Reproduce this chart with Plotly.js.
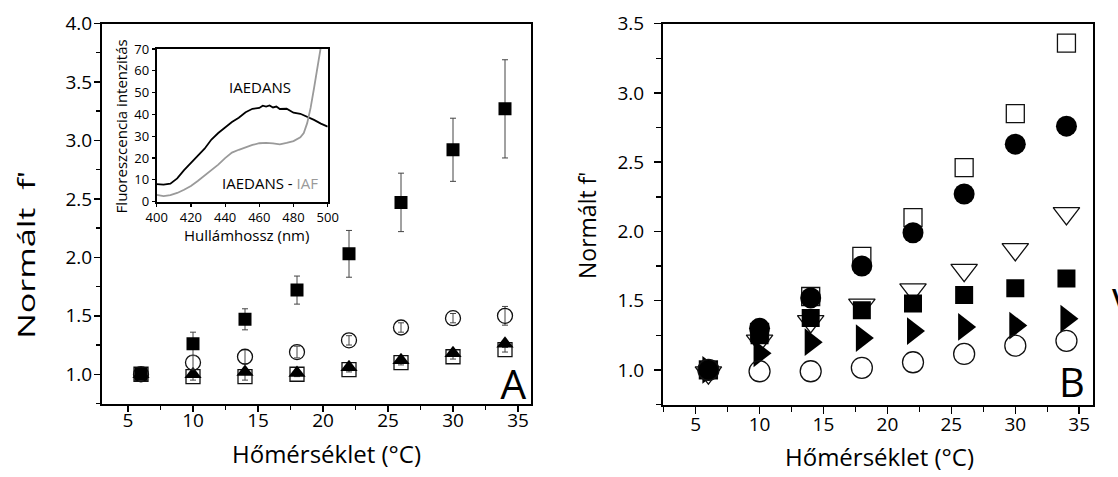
<!DOCTYPE html>
<html><head><meta charset="utf-8">
<script src="https://cdn.plot.ly/plotly-3.0.1.min.js"></script>
<style>html,body{margin:0;padding:0;background:#fff}#chart{width:1118px;height:477px}</style>
</head><body><div id="chart"></div>
<script>
// ---------- data ----------
const temps = [6, 10, 14, 18, 22, 26, 30, 34];

// Panel A
const A_filledSq     = [1.00, 1.26, 1.47, 1.72, 2.03, 2.47, 2.92, 3.27];
const A_filledSqErr  = [0.02, 0.10, 0.09, 0.12, 0.20, 0.25, 0.27, 0.42];
const A_openCirc     = [1.00, 1.10, 1.15, 1.19, 1.29, 1.40, 1.48, 1.50];
const A_openCircErr  = [0.02, 0.06, 0.06, 0.05, 0.04, 0.04, 0.04, 0.08];
const A_openSq       = [1.00, 0.98, 0.98, 1.00, 1.04, 1.10, 1.15, 1.21];
const A_openSqErr    = [0.03, 0.03, 0.03, 0.02, 0.02, 0.02, 0.02, 0.02];
const A_filledTri    = [1.00, 1.00, 1.02, 1.01, 1.06, 1.12, 1.18, 1.26];

// Panel B
const B_openSq     = [1.00, 1.27, 1.53, 1.82, 2.10, 2.46, 2.85, 3.36];
const B_downTri    = [0.98, 1.21, 1.35, 1.47, 1.58, 1.72, 1.87, 2.13];
const B_filledSq   = [1.00, 1.25, 1.375, 1.43, 1.48, 1.54, 1.59, 1.66];
const B_filledCirc = [1.00, 1.30, 1.52, 1.75, 1.99, 2.27, 2.63, 2.76];
const B_rightTri   = [1.00, 1.12, 1.20, 1.23, 1.28, 1.31, 1.32, 1.37];
const B_openCirc   = [1.00, 0.99, 0.99, 1.015, 1.055, 1.115, 1.175, 1.21];

// Inset spectra
const wlBlack = [400,404,408,412,416,420,424,428,432,436,440,444,448,452,456,460,462,464,466,468,470,472,476,480,484,488,492,496,500];
const iaedans = [8.1,7.8,8.3,10.7,14.5,17.8,21.0,24.3,28.5,31.5,34.0,36.5,38.5,41.0,42.6,43.0,44.0,43.6,44.1,43.2,43.6,42.5,42.6,40.8,40.3,39.0,37.5,35.8,34.4];
const wlGray  = [400,404,408,412,416,420,424,428,432,436,440,444,448,452,456,460,464,468,472,476,480,484,486,488,490,492,494,496];
const iaedansIaf = [3.1,2.6,3.0,4.0,5.5,7.2,9.5,12.0,14.5,17.0,20.0,22.5,23.8,25.0,26.0,26.8,27.0,26.7,26.3,27.0,27.8,29.5,31.5,36.0,43.0,52.0,62.0,71.0];

// ---------- layout helpers ----------
const W = 1118, H = 477;
const px = v => v / W;
const py = v => 1 - v / H;
const FONT = 'Open Sans, Noto Sans, sans-serif';

function mainAxis(domain, range, dtick, tick0, minorDtick, tl, tlm, standoff, anchor) {
  return {
    domain: domain, range: range, anchor: anchor,
    tickmode: 'linear', tick0: tick0, dtick: dtick,
    ticks: 'outside', ticklen: tl, tickwidth: 1.5, tickcolor: '#000',
    showline: true, linewidth: 2, linecolor: '#000', mirror: true,
    showgrid: false, zeroline: false,
    tickfont: {family: FONT, size: 19, color: '#000'},
    ticklabelstandoff: standoff,
    minor: {tick0: tick0, dtick: minorDtick, ticks: 'outside', ticklen: tlm, tickwidth: 1.5, tickcolor: '#000', showgrid: false},
    tickformat: dtick < 1 ? '.1f' : ''
  };
}

const openLine = '#111';
const errStyle = arr => ({type: 'data', array: arr, visible: true, color: '#444', thickness: 1, width: 3});

const traces = [
  // Panel A
  {x: temps, y: A_openSq, xaxis: 'x', yaxis: 'y', mode: 'markers',
   marker: {symbol: 'square-open', size: 14, color: openLine, line: {width: 1.3}}, error_y: errStyle(A_openSqErr)},
  {x: temps, y: A_filledTri, xaxis: 'x', yaxis: 'y', mode: 'markers',
   marker: {symbol: 'triangle-up', size: 15, color: '#000'}},
  {x: temps, y: A_openCirc, xaxis: 'x', yaxis: 'y', mode: 'markers',
   marker: {symbol: 'circle-open', size: 15, color: openLine, line: {width: 1.3}}, error_y: errStyle(A_openCircErr)},
  {x: temps, y: A_filledSq, xaxis: 'x', yaxis: 'y', mode: 'markers',
   marker: {symbol: 'square', size: 13, color: '#000'}, error_y: errStyle(A_filledSqErr)},
  // Panel B
  {x: temps, y: B_openSq, xaxis: 'x2', yaxis: 'y2', mode: 'markers',
   marker: {symbol: 'square-open', size: 18, color: openLine, line: {width: 1.3}}},
  {x: temps, y: B_downTri, xaxis: 'x2', yaxis: 'y2', mode: 'markers',
   marker: {symbol: 'triangle-down-open', size: 23, color: openLine, line: {width: 1.3}}},
  {x: temps, y: B_filledSq, xaxis: 'x2', yaxis: 'y2', mode: 'markers',
   marker: {symbol: 'square', size: 18, color: '#000'}},
  {x: temps, y: B_filledCirc, xaxis: 'x2', yaxis: 'y2', mode: 'markers',
   marker: {symbol: 'circle', size: 21, color: '#000'}},
  {x: temps, y: B_rightTri, xaxis: 'x2', yaxis: 'y2', mode: 'markers',
   marker: {symbol: 'triangle-right', size: 24, color: '#000'}},
  {x: temps, y: B_openCirc, xaxis: 'x2', yaxis: 'y2', mode: 'markers',
   marker: {symbol: 'circle-open', size: 21, color: openLine, line: {width: 1.3}}},
  // Inset
  {x: wlBlack, y: iaedans, xaxis: 'x3', yaxis: 'y3', mode: 'lines', line: {color: '#000', width: 1.8}},
  {x: wlGray, y: iaedansIaf, xaxis: 'x3', yaxis: 'y3', mode: 'lines', line: {color: '#9a9a9a', width: 1.8}}
];

const insetAxisBase = {
  tickmode: 'linear', ticks: 'outside', ticklen: 3, tickwidth: 1.2, tickcolor: '#000',
  showline: true, linewidth: 2, linecolor: '#000', mirror: true,
  showgrid: false, zeroline: false,
  tickfont: {family: FONT, size: 13, color: '#000'}, ticklabelstandoff: 0
};

const layout = {
  width: W, height: H, showlegend: false,
  margin: {l: 0, r: 0, t: 0, b: 0},
  paper_bgcolor: '#fff', plot_bgcolor: '#fff',
  font: {family: FONT, color: '#000'},
  xaxis:  mainAxis([px(102), px(531)], [3, 36], 5, 5, 2.5, 6, 4, -7, 'y'),
  yaxis:  mainAxis([py(403.5), py(23.5)], [0.75, 4.0], 0.5, 1, 0.25, 6, 4, -2, 'x'),
  xaxis2: mainAxis([px(663), px(1093.3)], [2.45, 36.1], 5, 5, 2.5, 7, 5, -5, 'y2'),
  yaxis2: mainAxis([py(404.5), py(23.7)], [0.75, 3.5], 0.5, 1, 0.25, 7, 5, 6, 'x2'),
  xaxis3: Object.assign({}, insetAxisBase, {domain: [px(156.7), px(327.7)], range: [400, 500], tick0: 400, dtick: 20, anchor: 'y3'}),
  yaxis3: Object.assign({}, insetAxisBase, {domain: [py(201.7), py(49)], range: [0, 70], tick0: 0, dtick: 10, anchor: 'x3'}),
  annotations: [
    {text: 'Hőmérséklet (°C)', xref: 'paper', yref: 'paper', x: px(326.7), y: py(453), showarrow: false,
     font: {family: FONT, size: 24, color: '#000'}, xanchor: 'center', yanchor: 'middle'},
    {text: 'Hőmérséklet (°C)', xref: 'paper', yref: 'paper', x: px(879), y: py(456), showarrow: false,
     font: {family: FONT, size: 24, color: '#000'}, xanchor: 'center', yanchor: 'middle'},
    {text: "Normált  f'", xref: 'paper', yref: 'paper', x: px(25), y: py(255), showarrow: false, textangle: -90,
     font: {family: FONT, size: 24, color: '#000'}, xanchor: 'center', yanchor: 'middle'},
    {text: "Normált f'", xref: 'paper', yref: 'paper', x: px(587), y: py(226), showarrow: false, textangle: -90,
     font: {family: FONT, size: 23, color: '#000'}, xanchor: 'center', yanchor: 'middle'},
    {text: 'A', xref: 'paper', yref: 'paper', x: px(513), y: py(383), showarrow: false, height: 32, borderpad: 0,
     font: {family: FONT, size: 42, color: '#000'}, xanchor: 'center', yanchor: 'middle'},
    {text: 'B', xref: 'paper', yref: 'paper', x: px(1071.5), y: py(380.5), showarrow: false, height: 32, borderpad: 0,
     font: {family: FONT, size: 40, color: '#000'}, xanchor: 'center', yanchor: 'middle'},
    {text: 'V', xref: 'paper', yref: 'paper', x: px(1110), y: py(302), showarrow: false,
     font: {family: FONT, size: 40, color: '#000'}, xanchor: 'left', yanchor: 'middle'},
    {text: 'Fluoreszcencia intenzitás', xref: 'paper', yref: 'paper', x: px(120.7), y: py(126.7), showarrow: false, textangle: -90,
     font: {family: FONT, size: 15, color: '#000'}, xanchor: 'center', yanchor: 'middle'},
    {text: 'Hullámhossz (nm)', xref: 'paper', yref: 'paper', x: px(246.7), y: py(235), showarrow: false,
     font: {family: FONT, size: 15, color: '#000'}, xanchor: 'center', yanchor: 'middle'},
    {text: 'IAEDANS', xref: 'paper', yref: 'paper', x: px(260), y: py(86.7), showarrow: false,
     font: {family: FONT, size: 15, color: '#000'}, xanchor: 'center', yanchor: 'middle'},
    {text: 'IAEDANS - <span style="color:#9a9a9a">IAF</span>', xref: 'paper', yref: 'paper', x: px(270), y: py(183), showarrow: false,
     font: {family: FONT, size: 15, color: '#000'}, xanchor: 'center', yanchor: 'middle'}
  ]
};

Plotly.newPlot('chart', traces, layout, {staticPlot: true, displayModeBar: false}).then(function () {
  // Panel A's y title is vertically stretched in the original: stretch along the text direction.
  const texts = document.querySelectorAll('text.annotation-text');
  texts.forEach(function (t) {
    if (t.textContent === "Normált  f'") {
      const bb = t.getBBox();
      const cx = bb.x + bb.width / 2, cy = bb.y + bb.height / 2;
      const prev = t.getAttribute('transform') || '';
      t.setAttribute('transform', prev + ' translate(' + cx + ',' + cy + ') scale(1.42,1) translate(' + (-cx) + ',' + (-cy) + ')');
    }
  });
});
</script>
</body></html>
